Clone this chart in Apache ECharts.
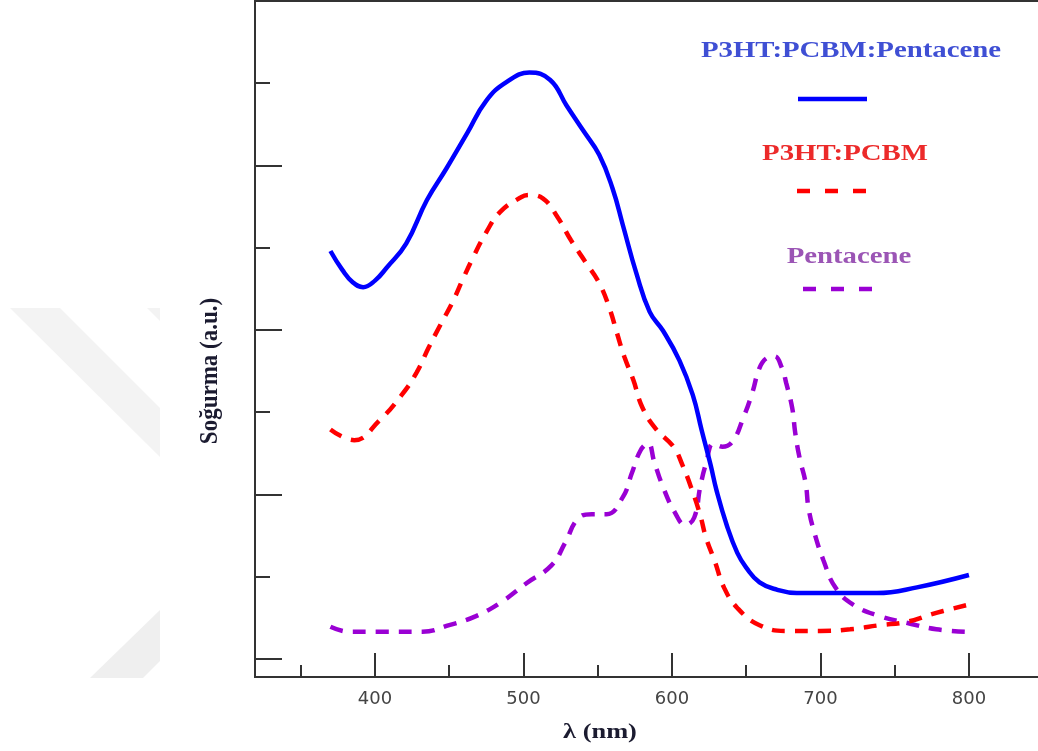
<!DOCTYPE html>
<html>
<head>
<meta charset="utf-8">
<script src="https://cdn.jsdelivr.net/npm/echarts@6/dist/echarts.min.js"></script>
<style>
  html, body { margin: 0; padding: 0; background: #fff; }
  #chart { width: 1038px; height: 751px; }
</style>
</head>
<body>
<div id="chart"></div>
<script>
// Absorption spectra: wavelength (nm) vs. absorbance (a.u.)
const blendTernary = [
  [370, 0.496], [378, 0.473], [385, 0.458], [392, 0.452], [400, 0.460], [408, 0.476],
  [421, 0.505], [435, 0.558], [448, 0.596], [462, 0.639], [475, 0.679], [489, 0.702],
  [504, 0.713], [518, 0.704], [529, 0.673], [540, 0.643], [551, 0.613], [560, 0.572],
  [567, 0.527], [576, 0.469], [585, 0.422], [594, 0.399], [605, 0.363], [614, 0.321],
  [620, 0.278], [626, 0.236], [630, 0.205], [637, 0.162], [644, 0.129], [650, 0.111],
  [659, 0.093], [671, 0.084], [684, 0.080], [738, 0.080], [765, 0.087], [800, 0.102]
];
const blendBinary = [
  [370, 0.279], [386, 0.266], [403, 0.290], [418, 0.321], [428, 0.348], [436, 0.378],
  [444, 0.406], [452, 0.433], [459, 0.461], [466, 0.488], [475, 0.519], [484, 0.543],
  [498, 0.561], [504, 0.564], [513, 0.560], [523, 0.537], [532, 0.509], [542, 0.482],
  [551, 0.457], [558, 0.426], [563, 0.396], [568, 0.367], [574, 0.339], [580, 0.306],
  [589, 0.280], [601, 0.258], [607, 0.236], [613, 0.208], [619, 0.175], [623, 0.147],
  [629, 0.118], [635, 0.087], [644, 0.062], [659, 0.041], [677, 0.034], [700, 0.034],
  [720, 0.036], [740, 0.041], [758, 0.045], [778, 0.056], [800, 0.066]
];
const pentacene = [
  [370, 0.039], [383, 0.033], [403, 0.033], [432, 0.033], [450, 0.041], [468, 0.052],
  [485, 0.069], [502, 0.092], [519, 0.114], [528, 0.141], [537, 0.171], [546, 0.176],
  [556, 0.176], [567, 0.197], [573, 0.226], [579, 0.254], [584, 0.262], [588, 0.240],
  [594, 0.209], [602, 0.178], [609, 0.163], [615, 0.172], [619, 0.209], [623, 0.238],
  [628, 0.262], [634, 0.258], [641, 0.265], [648, 0.293], [654, 0.323], [659, 0.354],
  [664, 0.366], [669, 0.368], [674, 0.354], [677, 0.335], [681, 0.305], [683, 0.275],
  [686, 0.244], [690, 0.214], [692, 0.183], [696, 0.153], [702, 0.120], [710, 0.087],
  [722, 0.066], [740, 0.052], [758, 0.044], [778, 0.036], [800, 0.033]
];

const seriesNames = ['P3HT:PCBM:Pentacene', 'P3HT:PCBM', 'Pentacene'];
const lineColors = ['#0000ff', '#ff0000', '#9a00d4'];
const legendTextColors = ['#3f4fd4', '#ec2a2a', '#9b55b5'];

const xMajorTicks = [400, 500, 600, 700, 800];
const xMinorTicks = [350, 450, 550, 650, 750];
const yMajorTicks = [0, 0.2, 0.4, 0.6, 0.8];
const yMinorTicks = [0.1, 0.3, 0.5, 0.7];

const xTitle = 'λ (nm)';
const yTitle = 'Soğurma (a.u.)';

const X_MIN = 319.2, X_MAX = 846.5;
const Y_MIN = -0.022, Y_MAX = 0.8;
const axisColor = '#333333';
const serif = '"Liberation Serif", "Times New Roman", serif';

const chart = echarts.init(document.getElementById('chart'), null, { renderer: 'canvas' });

function xAxisDef(ticks, len, withLabels) {
  return {
    type: 'value', min: X_MIN, max: X_MAX, position: 'bottom',
    axisLine: { show: true, onZero: false, lineStyle: { color: axisColor, width: 2 } },
    axisTick: { show: true, inside: true, length: len, customValues: ticks,
                lineStyle: { color: axisColor, width: 2 } },
    axisLabel: withLabels ? {
      show: true, customValues: ticks, margin: 13,
      fontFamily: '"DejaVu Sans", sans-serif', fontSize: 18, color: '#444444'
    } : { show: false },
    splitLine: { show: false }
  };
}
function yAxisDef(ticks, len) {
  return {
    type: 'value', min: Y_MIN, max: Y_MAX, position: 'left',
    axisLine: { show: true, onZero: false, lineStyle: { color: axisColor, width: 2 } },
    axisTick: { show: true, inside: true, length: len, customValues: ticks,
                lineStyle: { color: axisColor, width: 2 } },
    axisLabel: { show: false },
    splitLine: { show: false }
  };
}

const dashPattern = [13, 10];
function lineSeries(i, data, dashed) {
  return {
    name: seriesNames[i], type: 'line', data: data,
    xAxisIndex: 0, yAxisIndex: 0,
    smooth: 0.45, showSymbol: false, symbol: 'none',
    lineStyle: { color: lineColors[i], width: 4.5, type: dashed ? dashPattern : 'solid', cap: 'butt' },
    emphasis: { disabled: true },
    z: 3 - i
  };
}

// Faint background emblem on the left margin
const emblemUpper = [[10, 308], [60, 308], [160, 408], [160, 457]];
const emblemCorner = [[147, 308], [160, 308], [160, 321]];
const emblemLower = [[90, 678], [143, 678], [160, 661], [160, 610]];

function legendLine(x1, x2, y, color, dashed) {
  return {
    type: 'line', z: 10,
    shape: { x1: x1, y1: y, x2: x2, y2: y },
    style: { stroke: color, lineWidth: 4.5, lineDash: dashed ? [13, 15] : null, lineCap: 'butt' }
  };
}
function legendText(txt, cx, cy, color) {
  return {
    type: 'text', z: 10, x: cx, y: cy, scaleX: 1.2, scaleY: 1,
    style: { text: txt, fill: color, font: 'bold 24px ' + serif, align: 'center', verticalAlign: 'middle' }
  };
}

chart.setOption({
  animation: false,
  backgroundColor: '#ffffff',
  grid: { left: 255, right: 0, top: 1, bottom: 74, containLabel: false },
  xAxis: [
    xAxisDef(xMajorTicks, 24, true),
    xAxisDef(xMinorTicks, 12, false),
    {
      type: 'value', min: X_MIN, max: X_MAX, position: 'top',
      axisLine: { show: true, onZero: false, lineStyle: { color: axisColor, width: 2 } },
      axisTick: { show: false }, axisLabel: { show: false }, splitLine: { show: false }
    }
  ],
  yAxis: [
    yAxisDef(yMajorTicks, 27),
    yAxisDef(yMinorTicks, 15)
  ],
  series: [
    lineSeries(0, blendTernary, false),
    lineSeries(1, blendBinary, true),
    lineSeries(2, pentacene, true)
  ],
  graphic: [
    { type: 'polygon', z: -1, shape: { points: emblemUpper }, style: { fill: '#f3f3f3' } },
    { type: 'polygon', z: -1, shape: { points: emblemCorner }, style: { fill: '#f3f3f3' } },
    { type: 'polygon', z: -1, shape: { points: emblemLower }, style: { fill: '#efefef' } },

    legendText(seriesNames[0], 851, 51, legendTextColors[0]),
    legendLine(798, 867, 99, lineColors[0], false),
    legendText(seriesNames[1], 845, 154, legendTextColors[1]),
    legendLine(797, 868, 191, lineColors[1], true),
    legendText(seriesNames[2], 849, 257, legendTextColors[2]),
    legendLine(803, 874, 289, lineColors[2], true),

    {
      type: 'text', z: 10, x: 600, y: 732, scaleX: 1.2,
      style: { text: xTitle, fill: '#1b1b30', font: 'bold 22px ' + serif, align: 'center', verticalAlign: 'middle' }
    },
    {
      type: 'text', z: 10, x: 210, y: 371, rotation: Math.PI / 2, scaleY: 1.1,
      style: { text: yTitle, fill: '#1b1b30', font: 'bold 23px ' + serif, align: 'center', verticalAlign: 'middle' }
    }
  ]
});
</script>
</body>
</html>
